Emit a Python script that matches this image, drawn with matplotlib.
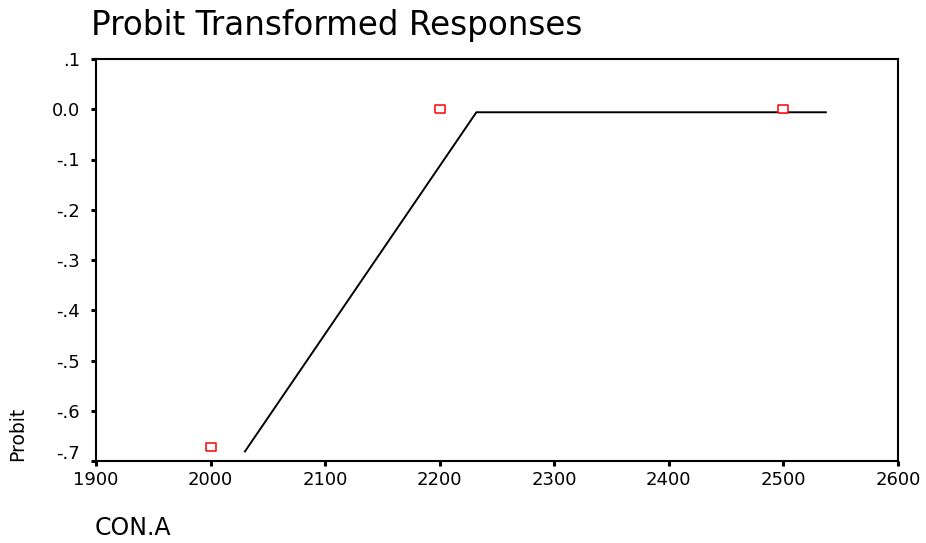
import numpy as np
import matplotlib
matplotlib.use('Agg')
import matplotlib.pyplot as plt
import matplotlib.transforms as mtransforms

# observed probit responses
conc = [2000, 2200, 2500]
probit = [-0.672, 0.0, 0.0]

# fitted probit line
fit_x = [2030, 2232, 2537]
fit_y = [-0.681, -0.006, -0.006]

xticks = [1900, 2000, 2100, 2200, 2300, 2400, 2500, 2600]
yticks = [-0.7, -0.6, -0.5, -0.4, -0.3, -0.2, -0.1, 0.0, 0.1]
ytick_labels = ['-.7', '-.6', '-.5', '-.4', '-.3', '-.2', '-.1', '0.0', '.1']

plt.rcParams['font.family'] = ['DejaVu Sans']

W, H = 926, 543
fig = plt.figure(figsize=(W / 100, H / 100), dpi=100)
ax = fig.add_axes([96 / W, 1 - 461 / H, (898 - 96) / W, (461 - 59) / H])

ax.plot(fit_x, fit_y, color='black', lw=1.4, zorder=2)
rect = [(-1.3, -1), (1.3, -1), (1.3, 1), (-1.3, 1), (-1.3, -1)]
ax.plot(conc, probit, ls='none', marker=rect, ms=7, mfc='white', mec='red', mew=1.1, zorder=3)

ax.set_xlim(1900, 2600)
ax.set_ylim(-0.7, 0.1)
ax.set_xticks(xticks)
ax.set_xticklabels([str(t) for t in xticks])
ax.set_yticks(yticks)
ax.set_yticklabels(ytick_labels)

for s in ax.spines.values():
    s.set_linewidth(1.5)
ax.tick_params(direction='out', length=3.5, width=2.2, labelsize=13)
ax.tick_params(axis='y', pad=8)
ax.tick_params(axis='x', pad=4)

# lowest y label sits a little above its tick
lbl = ax.yaxis.get_major_ticks()[0].label1
lbl.set_transform(lbl.get_transform() + mtransforms.ScaledTranslation(0, 9 / 100, fig.dpi_scale_trans))

fig.text(91 / W, 1 - 35 / H, 'Probit Transformed Responses', fontsize=23.5, va='baseline', ha='left')
fig.text(95 / W, 1 - 535 / H, 'CON.A', fontsize=17, va='baseline', ha='left')
fig.text(18 / W, 1 - 461 / H, 'Probit', fontsize=13.5, rotation=90, va='bottom', ha='center')

fig.savefig('out.png', dpi=100)
